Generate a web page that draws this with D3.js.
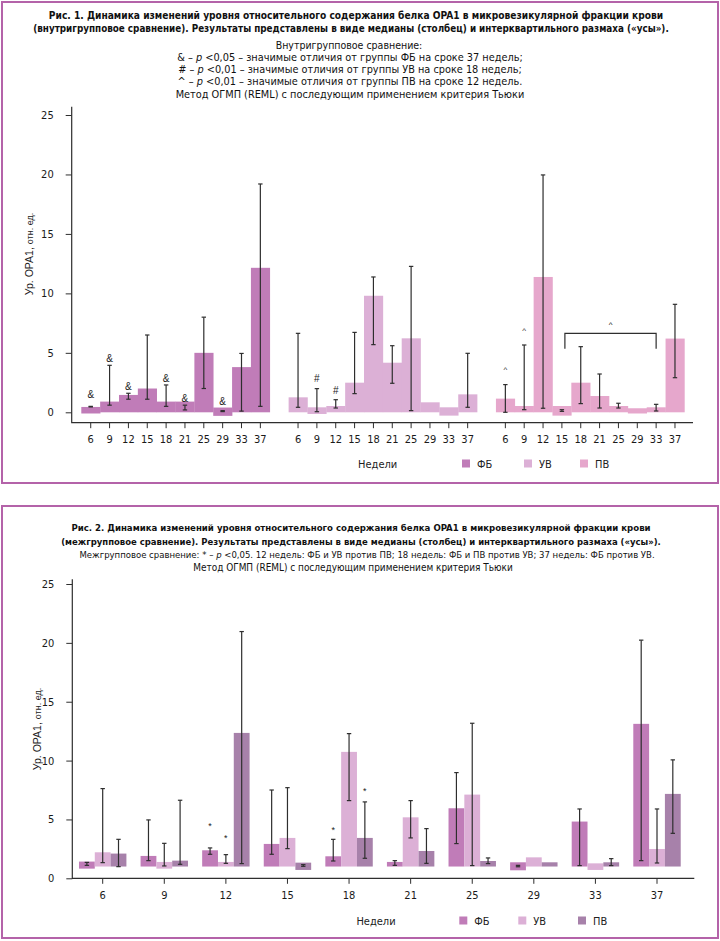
<!DOCTYPE html>
<html>
<head>
<meta charset="utf-8">
<script src="https://cdn.jsdelivr.net/npm/d3@7/dist/d3.min.js"></script>
<style>
  body { margin: 0; background: #fff; }
  svg { display: block; }
</style>
</head>
<body>
<script>
const weeks = [6, 9, 12, 15, 18, 21, 25, 29, 33, 37]
const groups = ["ФБ", "УВ", "ПВ"]
const yTicks = [0, 5, 10, 15, 20, 25]

// Рис. 1: столбец [низ, медиана], усы [Q1, Q3]
const fig1FbBar = [[-0.1, 0.45], [0, 0.9], [0, 1.46], [0, 2.0], [0, 0.9], [0, 0.9], [0, 5.0], [-0.3, 0.4], [0, 3.8], [0, 12.15]]
const fig1FbIqr = [[0.45, 0.5], [0.6, 3.95], [1.1, 1.6], [1.1, 6.5], [0.5, 2.3], [0.2, 0.6], [2.0, 8.0], [0.06, 0.14], [0.1, 4.95], [0.5, 19.2]]
const fig1UvBar = [[0, 1.26], [-0.14, 0.42], [0, 0.53], [0, 2.49], [0, 9.8], [0, 4.17], [0, 6.22], [0, 0.84], [-0.28, 0.42], [0, 1.51]]
const fig1UvIqr = [[0.42, 6.64], [0.05, 1.99], [0.36, 1.06], [1.57, 6.72], [5.69, 11.38], [2.44, 5.6], [0.14, 12.27], null, null, [0.42, 4.96]]
const fig1PvBar = [[0, 1.15], [0, 0.53], [0, 11.38], [-0.28, 0.53], [0, 2.49], [0, 1.37], [0, 0.53], [-0.1, 0.34], [0, 0.42], [0, 6.2]]
const fig1PvIqr = [[0, 2.33], [0.22, 5.66], [0.34, 19.96], [0.08, 0.22], [0.73, 5.52], [0.36, 3.22], [0.36, 0.76], null, [0.11, 0.67], [2.91, 9.08]]
const fig1Marks = [
  { group: "ФБ", week: 6, sign: "&", at: 1.46 }, { group: "ФБ", week: 9, sign: "&", at: 4.54 },
  { group: "ФБ", week: 12, sign: "&", at: 2.2 }, { group: "ФБ", week: 18, sign: "&", at: 2.86 },
  { group: "ФБ", week: 21, sign: "&", at: 1.18 }, { group: "ФБ", week: 29, sign: "&", at: 0.9 },
  { group: "УВ", week: 9, sign: "#", at: 2.83 }, { group: "УВ", week: 12, sign: "#", at: 1.82 },
  { group: "ПВ", week: 6, sign: "^", at: 3.6 }, { group: "ПВ", week: 9, sign: "^", at: 6.9 }
]
const fig1Bracket = { group: "ПВ", from: 15, to: 33, at: 6.64, leg: 5.35, sign: "^", signAt: 7.4 }

// Рис. 2
const fig2FbBar = [[0.82, 1.42], [1, 1.9], [1, 2.38], [1, 2.92], [1, 1.87], [1, 1.39], [1, 5.95], [0.68, 1.36], [1, 4.82], [1, 13.12]]
const fig2FbIqr = [[1.1, 1.35], [1.5, 4.96], [2.04, 2.58], [2.04, 7.5], [1.47, 3.31], [1.1, 1.5], [2.95, 8.98], [0.98, 1.1], [1.08, 5.89], [1.5, 20.23]]
const fig2UvBar = [[1, 2.21], [0.82, 1.39], [1, 1.39], [1, 3.43], [1, 10.74], [1, 5.18], [1, 7.11], [1, 1.78], [0.71, 1.27], [1, 2.49]]
const fig2UvIqr = [[1.33, 7.62], [1.05, 2.97], [1.27, 2.01], [2.52, 7.7], [6.6, 12.29], [3.43, 6.6], [1.08, 13.17], null, null, [1.3, 5.89]]
const fig2PvBar = [[1, 2.1], [1, 1.5], [1, 12.35], [0.71, 1.33], [1, 3.43], [1, 2.32], [1, 1.47], [1, 1.36], [1, 1.36], [1, 7.17]]
const fig2PvIqr = [[0.99, 3.31], [1.19, 6.63], [1.25, 20.96], [1.02, 1.16], [1.7, 6.49], [1.27, 4.22], [1.25, 1.73], null, [1.08, 1.67], [3.82, 10.06]]
const fig2Marks = [
  { group: "ФБ", week: 12, sign: "*", at: 4.45 }, { group: "УВ", week: 12, sign: "*", at: 3.4 },
  { group: "ФБ", week: 18, sign: "*", at: 4.1 }, { group: "ПВ", week: 18, sign: "*", at: 7.4 }
]

const fig1Title = [
  "Рис. 1. Динамика изменений уровня относительного содержания белка OPA1 в микровезикулярной фракции крови",
  "(внутригрупповое сравнение). Результаты представлены в виде медианы (столбец) и интерквартильного размаха («усы»).",
  "Внутригрупповое сравнение:",
  "& – p <0,05 – значимые отличия от группы ФБ на сроке 37 недель;",
  "# – p <0,01 – значимые отличия от группы УВ на сроке 18 недель;",
  "^ – p <0,01 – значимые отличия от группы ПВ на сроке 12 недель.",
  "Метод ОГМП (REML) с последующим применением критерия Тьюки"
]
const fig2Title = [
  "Рис. 2. Динамика изменений уровня относительного содержания белка OPA1 в микровезикулярной фракции крови",
  "(межгрупповое сравнение). Результаты представлены в виде медианы (столбец) и интерквартильного размаха («усы»).",
  "Межгрупповое сравнение: * – p <0,05. 12 недель: ФБ и УВ против ПВ; 18 недель: ФБ и ПВ против УВ; 37 недель: ФБ против УВ.",
  "Метод ОГМП (REML) с последующим применением критерия Тьюки"
]
const yLabel = ["Ур. OPA1, ", "отн. ед."]
const xLabel = "Недели"

const colFb = "#c07cb8", colUv = "#dcb0d6", colPv1 = "#e6a7cc", colPv2 = "#a781aa"
const frameCol = "#b463a9", inkCol = "#2e2e2e"
const fontMain = "'Liberation Sans Narrow','DejaVu Sans Condensed','Liberation Sans',sans-serif"

const svg = d3.select("body").append("svg")
  .attr("width", 720).attr("height", 941)
  .style("font-family", fontMain)

svg.append("rect").attr("x", 2).attr("y", 2).attr("width", 716).attr("height", 481)
  .attr("fill", "none").attr("stroke", frameCol).attr("stroke-width", 2)
svg.append("rect").attr("x", 2).attr("y", 506).attr("width", 716).attr("height", 432)
  .attr("fill", "none").attr("stroke", frameCol).attr("stroke-width", 2)

// кегль подгоняется под ширину строки из оригинала; строки без w берут кегль предыдущей обычной строки
function heading(lines, layout) {
  let plainSize = 10.5
  lines.forEach((t, i) => {
    const L = layout[i]
    const base = L.bold ? 11 : 10.5
    const txt = svg.append("text")
      .attr("x", L.cx).attr("y", L.y)
      .attr("text-anchor", "middle")
      .attr("font-size", base)
      .attr("font-weight", L.bold ? "bold" : "normal")
      .attr("fill", "#111")
    const parts = t.split("p <")
    if (parts.length == 2) {
      txt.append("tspan").text(parts[0])
      txt.append("tspan").attr("font-style", "italic").text("p")
      txt.append("tspan").text(" <" + parts[1])
    } else txt.text(t)
    if (L.w) {
      const len = txt.node().getComputedTextLength()
      const size = len > 0 ? Math.min(12.5, base * L.w / len) : base
      txt.attr("font-size", size)
      if (!L.bold) plainSize = size
    } else txt.attr("font-size", plainSize)
  })
}

heading(fig1Title, [
  { cx: 356, y: 19, w: 615, bold: true }, { cx: 351, y: 32, w: 637, bold: true },
  { cx: 349, y: 49 }, { cx: 350, y: 61, w: 346 }, { cx: 350, y: 73 },
  { cx: 350, y: 85 }, { cx: 350, y: 98 }
])
heading(fig2Title, [
  { cx: 361, y: 531, w: 580, bold: true }, { cx: 361, y: 545, w: 601, bold: true },
  { cx: 367, y: 558, w: 576 }, { cx: 353, y: 571, w: 320 }
])

function whiskers(g, items, y) {
  const w = g.selectAll(null).data(items).join("g")
    .attr("stroke", inkCol).attr("stroke-width", 1.2)
  w.append("line").attr("x1", d => d.x).attr("x2", d => d.x)
    .attr("y1", d => y(d.lo)).attr("y2", d => y(d.hi))
  w.append("line").attr("x1", d => d.x - 2.2).attr("x2", d => d.x + 2.2)
    .attr("y1", d => y(d.lo)).attr("y2", d => y(d.lo))
  w.append("line").attr("x1", d => d.x - 2.2).attr("x2", d => d.x + 2.2)
    .attr("y1", d => y(d.hi)).attr("y2", d => y(d.hi))
}

function yAxisLabel(x, cy) {
  const t = svg.append("text")
    .attr("transform", "translate(" + x + "," + cy + ") rotate(-90)")
    .attr("text-anchor", "middle").attr("fill", "#222")
    .attr("font-family", "'Liberation Sans',Arial,sans-serif")
  t.append("tspan").attr("font-size", 10.5).text(yLabel[0])
  t.append("tspan").attr("font-size", 9).text(yLabel[1])
}

function legend(y, xs, colors, xLab) {
  svg.append("text").attr("x", xLab).attr("y", y + 4).attr("text-anchor", "middle")
    .attr("font-size", 11).attr("fill", "#222").text(xLabel)
  groups.forEach((gname, i) => {
    svg.append("rect").attr("x", xs[i]).attr("y", y - 4).attr("width", 8).attr("height", 8).attr("fill", colors[i])
    svg.append("text").attr("x", xs[i] + 15).attr("y", y + 4).attr("font-size", 11).attr("fill", "#222").text(gname)
  })
}

function styleAxis(g) {
  g.select(".domain").remove()
  g.selectAll(".tick line").attr("stroke", inkCol)
  g.selectAll(".tick text").attr("fill", "#1a1a1a").attr("font-size", 11).attr("font-family", fontMain)
}

// ---------- Рис. 1 ----------
function renderFig1() {
  const slots = []
  groups.forEach((gname, gi) => {
    if (gi) slots.push("gap" + gi)
    weeks.forEach(w => slots.push(gname + w))
  })
  const x = d3.scaleBand().domain(slots).range([81.3, 684.4]).padding(0)
  const y = d3.scaleLinear().domain([0, 25]).range([412.3, 115])
  const axisY = 422.7, axisX = 71.7

  const series = [
    { name: "ФБ", color: colFb, bars: fig1FbBar, iqr: fig1FbIqr },
    { name: "УВ", color: colUv, bars: fig1UvBar, iqr: fig1UvIqr },
    { name: "ПВ", color: colPv1, bars: fig1PvBar, iqr: fig1PvIqr }
  ]
  const g = svg.append("g")
  const bars = [], iqr = []
  series.forEach(s => weeks.forEach((w, i) => {
    bars.push({ key: s.name + w, lo: s.bars[i][0], hi: s.bars[i][1], color: s.color })
    if (s.iqr[i]) iqr.push({ x: x(s.name + w) + x.bandwidth() / 2, lo: s.iqr[i][0], hi: s.iqr[i][1] })
  }))

  g.selectAll(".bar").data(bars).join("rect").attr("class", "bar")
    .attr("x", d => x(d.key)).attr("width", x.bandwidth() + 0.3)
    .attr("y", d => y(d.hi)).attr("height", d => y(d.lo) - y(d.hi))
    .attr("fill", d => d.color)
  whiskers(g, iqr, y)

  g.selectAll(".mark").data(fig1Marks).join("text").attr("class", "mark")
    .attr("x", d => x(d.group + d.week) + x.bandwidth() / 2).attr("y", d => y(d.at))
    .attr("text-anchor", "middle").attr("dominant-baseline", "central")
    .attr("font-family", "'Liberation Sans',Arial,sans-serif")
    .attr("font-size", d => d.sign == "^" ? 8 : 10).attr("fill", "#222")
    .text(d => d.sign)

  const b = fig1Bracket
  const bx1 = x(b.group + b.from) + x.bandwidth() / 2 + 3, bx2 = x(b.group + b.to) + x.bandwidth() / 2
  g.append("path")
    .attr("d", "M" + bx1 + "," + y(b.leg) + "V" + y(b.at) + "H" + bx2 + "V" + y(b.leg))
    .attr("fill", "none").attr("stroke", inkCol).attr("stroke-width", 1.2)
  g.append("text").attr("x", (bx1 + bx2) / 2).attr("y", y(b.signAt))
    .attr("text-anchor", "middle").attr("dominant-baseline", "central")
    .attr("font-size", 8).attr("font-family", "'Liberation Sans',Arial,sans-serif").text(b.sign)

  const ticks = slots.filter(s => !s.startsWith("gap"))
  svg.append("g").attr("transform", "translate(0," + axisY + ")")
    .call(d3.axisBottom(x).tickValues(ticks).tickFormat(d => d.slice(2)).tickSizeOuter(0).tickSize(5.5).tickPadding(7))
    .call(styleAxis)
  svg.append("g").attr("transform", "translate(" + axisX + ",0)")
    .call(d3.axisLeft(y).tickValues(yTicks).tickSize(6).tickPadding(12).tickSizeOuter(0))
    .call(styleAxis)
  svg.append("path")
    .attr("d", "M" + axisX + "," + y(25.7) + "V" + axisY + "H693")
    .attr("fill", "none").attr("stroke", inkCol).attr("stroke-width", 1.2)

  yAxisLabel(32.5, 254)
  legend(463.5, [462, 524, 580], [colFb, colUv, colPv1], 377.7)
}

// ---------- Рис. 2 ----------
function renderFig2() {
  const x = d3.scaleBand().domain(weeks).range([71.9, 687.8]).paddingInner(0.23).paddingOuter(0.115)
  const xs = d3.scaleBand().domain(groups).range([0, x.bandwidth()])
  const y = d3.scaleLinear().domain([0, 25]).range([878.3, 584])
  const axisX = 72.3

  const series = [
    { name: "ФБ", color: colFb, bars: fig2FbBar, iqr: fig2FbIqr },
    { name: "УВ", color: colUv, bars: fig2UvBar, iqr: fig2UvIqr },
    { name: "ПВ", color: colPv2, bars: fig2PvBar, iqr: fig2PvIqr }
  ]
  const g = svg.append("g")
  const bars = [], iqr = []
  series.forEach(s => weeks.forEach((w, i) => {
    const x0 = x(w) + xs(s.name)
    bars.push({ x: x0, lo: s.bars[i][0], hi: s.bars[i][1], color: s.color })
    if (s.iqr[i]) iqr.push({ x: x0 + xs.bandwidth() / 2, lo: s.iqr[i][0], hi: s.iqr[i][1] })
  }))

  g.selectAll(".bar").data(bars).join("rect").attr("class", "bar")
    .attr("x", d => d.x).attr("width", xs.bandwidth())
    .attr("y", d => y(d.hi)).attr("height", d => y(d.lo) - y(d.hi))
    .attr("fill", d => d.color)
  whiskers(g, iqr, y)

  g.selectAll(".mark").data(fig2Marks).join("text").attr("class", "mark")
    .attr("x", d => x(d.week) + xs(d.group) + xs.bandwidth() / 2).attr("y", d => y(d.at))
    .attr("text-anchor", "middle").attr("dominant-baseline", "central")
    .attr("font-family", "'Liberation Sans',Arial,sans-serif")
    .attr("font-size", 9).attr("fill", "#222").text(d => d.sign)

  svg.append("g").attr("transform", "translate(0," + y(0) + ")")
    .call(d3.axisBottom(x).tickSizeOuter(0).tickSize(5.5).tickPadding(7))
    .call(styleAxis)
  svg.append("g").attr("transform", "translate(" + axisX + ",0)")
    .call(d3.axisLeft(y).tickValues(yTicks).tickSize(6).tickPadding(12).tickSizeOuter(0))
    .call(styleAxis)
  svg.append("path")
    .attr("d", "M" + axisX + "," + y(25.4) + "V" + y(0) + "H694.3")
    .attr("fill", "none").attr("stroke", inkCol).attr("stroke-width", 1.2)

  yAxisLabel(41, 729)
  legend(920.5, [459.3, 518.3, 578], [colFb, colUv, colPv2], 376)
}

renderFig1()
renderFig2()
</script>
</body>
</html>
